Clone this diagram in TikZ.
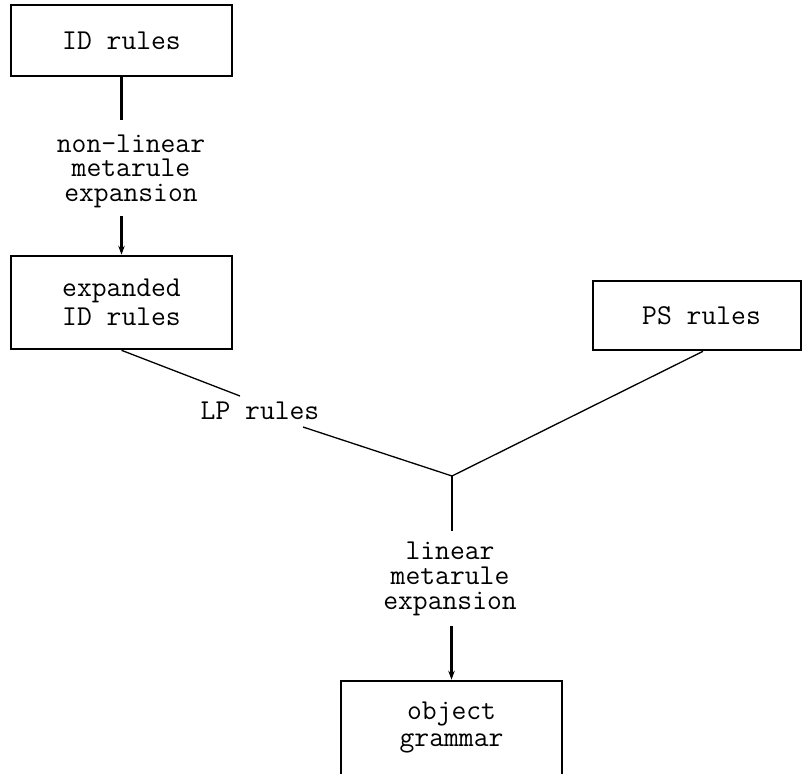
\documentclass[tikz,border=0pt]{standalone}
\usetikzlibrary{arrows.meta}
\begin{document}
\begin{tikzpicture}[x=1bp,y=-1bp,
  boxnode/.style={draw,line width=2.6bp,rectangle,inner sep=0pt,align=center,
    font=\fontsize{28.8bp}{29bp}\selectfont\ttfamily},
  lbl/.style={inner xsep=2bp,inner ysep=10bp,align=center,
    font=\fontsize{28.8bp}{25bp}\selectfont\ttfamily},
  vline/.style={line width=2.6bp},
  dline/.style={line width=1.3bp},
  tip/.style={-{Stealth[length=9bp,width=6.5bp]}}]
\useasboundingbox (0,0) rectangle (804,774);
\clip (0,0) rectangle (804,774);
\node[boxnode,minimum width=221bp,minimum height=71bp] (id) at (121.5,40.5) {ID rules};
\node[boxnode,minimum width=221bp,minimum height=93bp,font=\fontsize{28.8bp}{29bp}\selectfont\ttfamily] (ex) at (121.5,302.5) {expanded\\ID rules};
\node[boxnode,minimum width=208bp,minimum height=69bp] (ps) at (697,315.5) {\hspace*{9bp}PS rules};
\node[boxnode,minimum width=221bp,minimum height=108bp,text depth=22bp,font=\fontsize{28.8bp}{27bp}\selectfont\ttfamily] (og) at (451.5,735) {object\\grammar};
\node[lbl,font=\fontsize{28.8bp}{24.5bp}\selectfont\ttfamily,inner ysep=8bp] (nl) at (131,170.9) {non-linear\\metarule\\expansion};
\node[lbl] (lin) at (450,578.4) {linear\\metarule\\expansion};
\node[inner sep=0pt,font=\fontsize{28.8bp}{29bp}\selectfont\ttfamily] (lp) at (260,411) {LP rules};
\coordinate (j) at (452,476);
\draw[vline,shorten >=6bp] (id.south) -- (id.south |- nl.north);
\draw[vline,tip] (ex.north |- nl.south) -- (ex.north);
\draw[dline] (ex.south) -- ([shift={(-20,-15)}]lp.center);
\draw[dline] ([shift={(43,16)}]lp.center) -- (j);
\draw[dline] ([xshift=6bp]ps.south) -- (j);
\draw[vline] (j) -- (j |- lin.north);
\draw[vline,tip] (og.north |- lin.south) -- (og.north);
\end{tikzpicture}
\end{document}
